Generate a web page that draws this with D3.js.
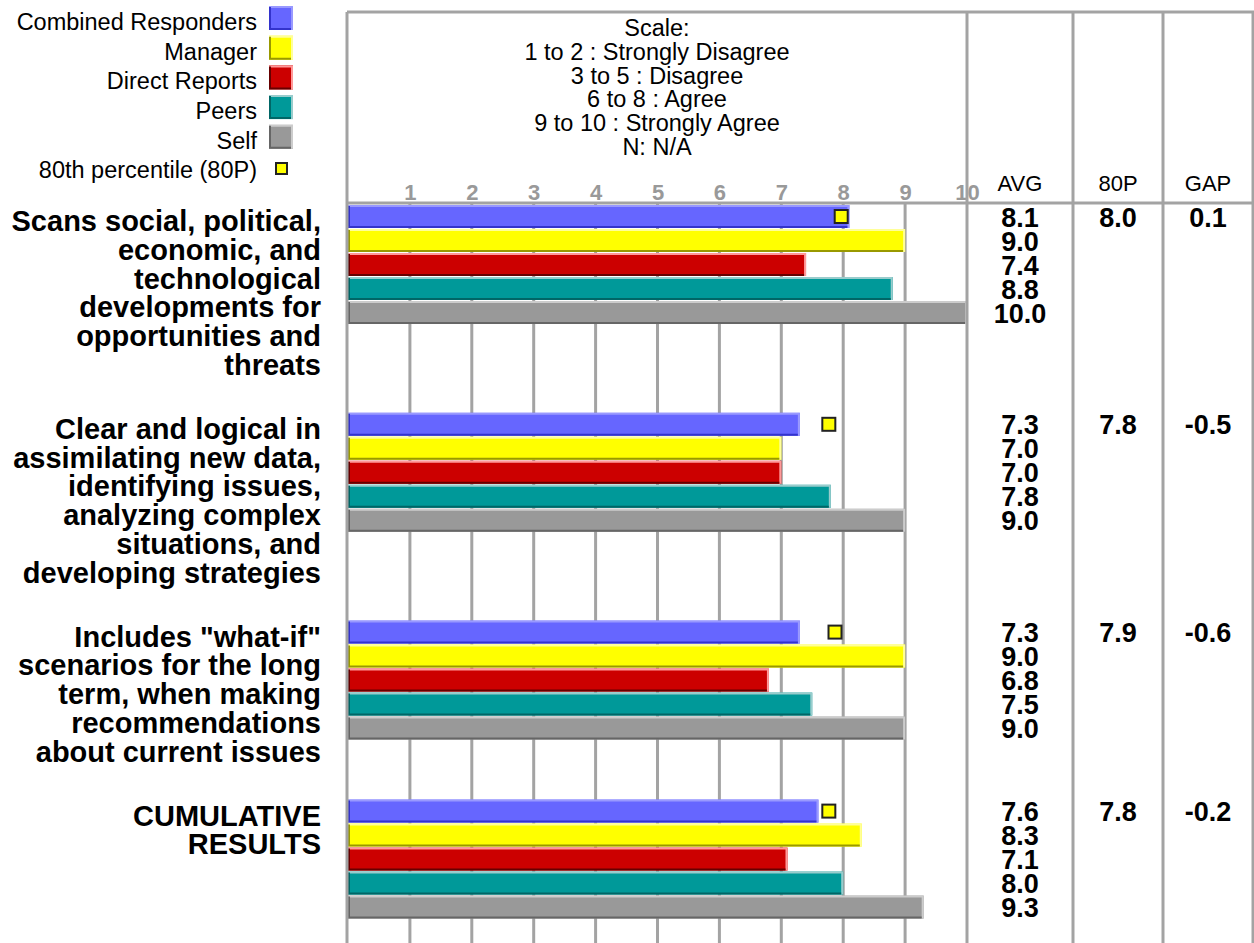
<!DOCTYPE html>
<html>
<head>
<meta charset="utf-8">
<script src="https://cdn.jsdelivr.net/npm/d3@7"></script>
<style>
  body { margin: 0; background: #fff; }
  svg { display: block; font-family: "Liberation Sans", Arial, Helvetica, sans-serif; }
</style>
</head>
<body>
<div class="graph"></div>
<script>
// data
const categories = [
    ['Scans social, political,', 'economic, and', 'technological', 'developments for', 'opportunities and', 'threats'],
    ['Clear and logical in', 'assimilating new data,', 'identifying issues,', 'analyzing complex', 'situations, and', 'developing strategies'],
    ['Includes "what-if"', 'scenarios for the long', 'term, when making', 'recommendations', 'about current issues'],
    ['CUMULATIVE', 'RESULTS']
];
const seriesNames = ['Combined Responders', 'Manager', 'Direct Reports', 'Peers', 'Self'];
const combined = [8.1, 7.3, 7.3, 7.6];
const manager = [9.0, 7.0, 9.0, 8.3];
const directReports = [7.4, 7.0, 6.8, 7.1];
const peers = [8.8, 7.8, 7.5, 8.0];
const self = [10.0, 9.0, 9.0, 9.3];
const p80 = [8.0, 7.8, 7.9, 7.8];
const gap = [0.1, -0.5, -0.6, -0.2];
const tickLabels = [1, 2, 3, 4, 5, 6, 7, 8, 9, 10];
const scaleLines = ['Scale:', '1 to 2 : Strongly Disagree', '3 to 5 : Disagree', '6 to 8 : Agree', '9 to 10 : Strongly Agree', 'N: N/A'];
const columnHeads = ['AVG', '80P', 'GAP'];

const seriesValues = [combined, manager, directReports, peers, self];
const colors = [
    { base: '#6666ff', light: '#9999ff', dark: '#3333cc' },
    { base: '#ffff00', light: '#ffff99', dark: '#999900' },
    { base: '#cc0000', light: '#ff9999', dark: '#660000' },
    { base: '#009999', light: '#99cccc', dark: '#006666' },
    { base: '#999999', light: '#cccccc', dark: '#666666' }
];

const W = 1254, H = 943;
const frameLeft = 347, frameTop = 12, headLine = 203, right = 1253;
const colX = [967, 1073, 1163, 1253];
const lineCol = '#a3a3a3';
const barPitch = 24, barH = 23, labelLH = 28.8, groupPad = 35;

const svg = d3.select('.graph').append('svg').attr('width', W).attr('height', H);

const xScale = d3.scaleLinear().domain([0, 10]).range([348, 967]);

// group tops
let tops = [];
let yy = 205;
categories.forEach(c => {
    tops.push(yy);
    yy += Math.max(c.length * labelLH, seriesNames.length * barPitch) + groupPad;
});

// grid lines
svg.append('g').selectAll('line').data(tickLabels.slice(0, 9)).join('line')
    .attr('x1', d => xScale(d)).attr('x2', d => xScale(d))
    .attr('y1', headLine).attr('y2', H)
    .attr('stroke', lineCol).attr('stroke-width', 3);

// tick labels
const xAxis = d3.axisTop(xScale).tickValues(tickLabels).tickSize(0).tickPadding(0).tickFormat(d3.format('d'));
const ax = svg.append('g').attr('transform', 'translate(0,200)').call(xAxis);
ax.select('.domain').remove();
ax.selectAll('text').attr('fill', '#999').style('font-size', '22px').style('font-weight', 'bold');

// bars
const bars = svg.append('g');
categories.forEach((c, gi) => {
    seriesValues.forEach((vals, si) => {
        const x0 = xScale(0), x1 = xScale(vals[gi]);
        const y0 = tops[gi] + si * barPitch;
        const col = colors[si];
        const g = bars.append('g');
        g.append('rect').attr('x', x0).attr('y', y0).attr('width', x1 - x0).attr('height', barH).attr('fill', col.base);
        g.append('path').attr('d', `M${x0},${y0 + 1}H${x1 - 1}V${y0 + barH}`).attr('fill', 'none').attr('stroke', col.light).attr('stroke-width', 2);
        g.append('path').attr('d', `M${x0 + 1},${y0 + 1}V${y0 + barH - 1}H${x1 - 2}`).attr('fill', 'none').attr('stroke', col.dark).attr('stroke-width', 2);
    });
    // 80P marker
    bars.append('rect')
        .attr('x', xScale(p80[gi]) - 8.5).attr('y', tops[gi] + barH / 2 - 6.5)
        .attr('width', 13).attr('height', 13)
        .attr('fill', '#ffff00').attr('stroke', '#222').attr('stroke-width', 2);
});

// frame lines
const frame = svg.append('g').attr('stroke', lineCol).attr('stroke-width', 3);
frame.append('line').attr('x1', frameLeft).attr('x2', right + 1).attr('y1', frameTop).attr('y2', frameTop);
frame.append('line').attr('x1', frameLeft).attr('x2', right + 1).attr('y1', headLine).attr('y2', headLine);
frame.append('line').attr('x1', frameLeft).attr('x2', frameLeft).attr('y1', frameTop).attr('y2', H);
colX.forEach(cx => {
    frame.append('line').attr('x1', cx).attr('x2', cx).attr('y1', frameTop).attr('y2', H);
});

// scale text
svg.append('g').selectAll('text').data(scaleLines).join('text')
    .attr('x', 657).attr('y', (d, i) => 36 + i * 23.8)
    .attr('text-anchor', 'middle').style('font-size', '23.5px').text(d => d);

// column headers
svg.append('g').selectAll('text').data(columnHeads).join('text')
    .attr('x', (d, i) => (colX[i] + colX[i + 1]) / 2).attr('y', 191)
    .attr('text-anchor', 'middle').style('font-size', '22px').text(d => d);

// right-hand numbers
const nums = svg.append('g').style('font-size', '27px').style('font-weight', 'bold').attr('text-anchor', 'middle');
categories.forEach((c, gi) => {
    seriesValues.forEach((vals, si) => {
        nums.append('text').attr('x', (colX[0] + colX[1]) / 2).attr('y', tops[gi] + si * barPitch + 21.5)
            .text(vals[gi].toFixed(1));
    });
    nums.append('text').attr('x', (colX[1] + colX[2]) / 2).attr('y', tops[gi] + 21.5).text(p80[gi].toFixed(1));
    nums.append('text').attr('x', (colX[2] + colX[3]) / 2).attr('y', tops[gi] + 21.5).text(gap[gi].toFixed(1));
});

// category labels
const labs = svg.append('g').style('font-size', '29px').style('font-weight', 'bold').attr('text-anchor', 'end');
categories.forEach((c, gi) => {
    labs.append('g').selectAll('text').data(c).join('text')
        .attr('x', 321).attr('y', (d, i) => tops[gi] + 26 + i * labelLH)
        .text(d => d);
});

// legend
const leg = svg.append('g');
seriesNames.forEach((name, i) => {
    const by = 30 + i * 29.7;
    leg.append('text').attr('x', 257).attr('y', by).attr('text-anchor', 'end').style('font-size', '23.5px').text(name);
    const sx = 269, sy = by - 24, s = 24, col = colors[i];
    leg.append('rect').attr('x', sx).attr('y', sy).attr('width', s).attr('height', s).attr('fill', col.base);
    leg.append('path').attr('d', `M${sx},${sy + 1}H${sx + s - 1}V${sy + s}`).attr('fill', 'none').attr('stroke', col.light).attr('stroke-width', 2);
    leg.append('path').attr('d', `M${sx + 1},${sy + 1}V${sy + s - 1}H${sx + s - 2}`).attr('fill', 'none').attr('stroke', col.dark).attr('stroke-width', 2);
});
leg.append('text').attr('x', 257).attr('y', 30 + 5 * 29.7 - 1).attr('text-anchor', 'end').style('font-size', '23.5px').text('80th percentile (80P)');
leg.append('rect').attr('x', 276).attr('y', 163).attr('width', 11).attr('height', 11)
    .attr('fill', '#ffff00').attr('stroke', '#222').attr('stroke-width', 2);
</script>
</body>
</html>
